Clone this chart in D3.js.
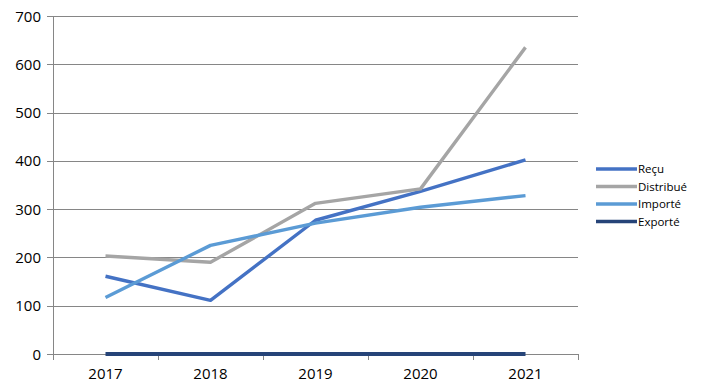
<!DOCTYPE html>
<html><head><meta charset="utf-8">
<script src="https://cdn.jsdelivr.net/npm/d3@7"></script>
<style>body{margin:0;background:#fff;font-family:"Open Sans",sans-serif;}</style>
</head><body><svg id="c" width="702" height="391"></svg>
<script>
const categories = ["2017","2018","2019","2020","2021"];
const recu = [161, 111, 277, 337, 402];
const distribue = [203, 190, 312, 342, 635];
const importe = [117, 225, 271, 304, 328];
const exporte = [0, 0, 0, 0, 0];
const seriesNames = ["Reçu","Distribué","Importé","Exporté"];
const seriesColors = ["#4472C4","#A5A5A5","#5B9BD5","#264478"];
const yTicks = [0,100,200,300,400,500,600,700];

(function(){
const series = [recu, distribue, importe, exporte];
const svg = d3.select("#c");
const pL = 53, pR = 578, pT = 16, pB = 354;
const x = d3.scaleBand().domain(categories).range([pL, pR]);
const y = d3.scaleLinear().domain([0,700]).range([pB, pT]);

svg.append("g").selectAll("line").data(yTicks).join("line")
  .attr("x1", pL - 6).attr("x2", pR).attr("y1", d=>Math.round(y(d))+0.5).attr("y2", d=>Math.round(y(d))+0.5)
  .attr("stroke", "#868686").attr("stroke-width", 1);
svg.append("line").attr("x1", pL+0.5).attr("x2", pL+0.5).attr("y1", pT).attr("y2", pB+6)
  .attr("stroke","#868686");
const bounds = categories.map(c=>x(c)).concat([pR]);
svg.append("g").selectAll("line").data(bounds).join("line")
  .attr("x1", d=>Math.round(d)+0.5).attr("x2", d=>Math.round(d)+0.5).attr("y1", pB).attr("y2", pB+6)
  .attr("stroke","#868686");
svg.append("g").selectAll("text").data(yTicks).join("text")
  .attr("x", 41).attr("y", d=>y(d)+5.5).attr("text-anchor","end")
  .attr("font-size", 15).attr("fill","#000").text(d=>d);
svg.append("g").selectAll("text").data(categories).join("text")
  .attr("x", d=>x(d)+x.bandwidth()/2).attr("y", 379).attr("text-anchor","middle")
  .attr("font-size", 15).attr("fill","#000").text(d=>d);

const line = d3.line().x((d,i)=>x(categories[i])+x.bandwidth()/2).y(d=>y(d));
const widths = [3.4, 3.4, 3.4, 4];
series.forEach((s,k)=>{
  svg.append("path").attr("d", line(s)).attr("fill","none")
    .attr("stroke", seriesColors[k]).attr("stroke-width", widths[k]).attr("stroke-linejoin","round");
});

const lg = svg.append("g");
seriesNames.forEach((n,k)=>{
  const yy = 169 + k*17.5;
  lg.append("line").attr("x1",596).attr("x2",637).attr("y1",yy).attr("y2",yy)
    .attr("stroke",seriesColors[k]).attr("stroke-width",3.4);
  lg.append("text").attr("x",638).attr("y",yy+4).attr("font-size",11.5).attr("fill","#000").text(n);
});
})();
</script></body></html>
